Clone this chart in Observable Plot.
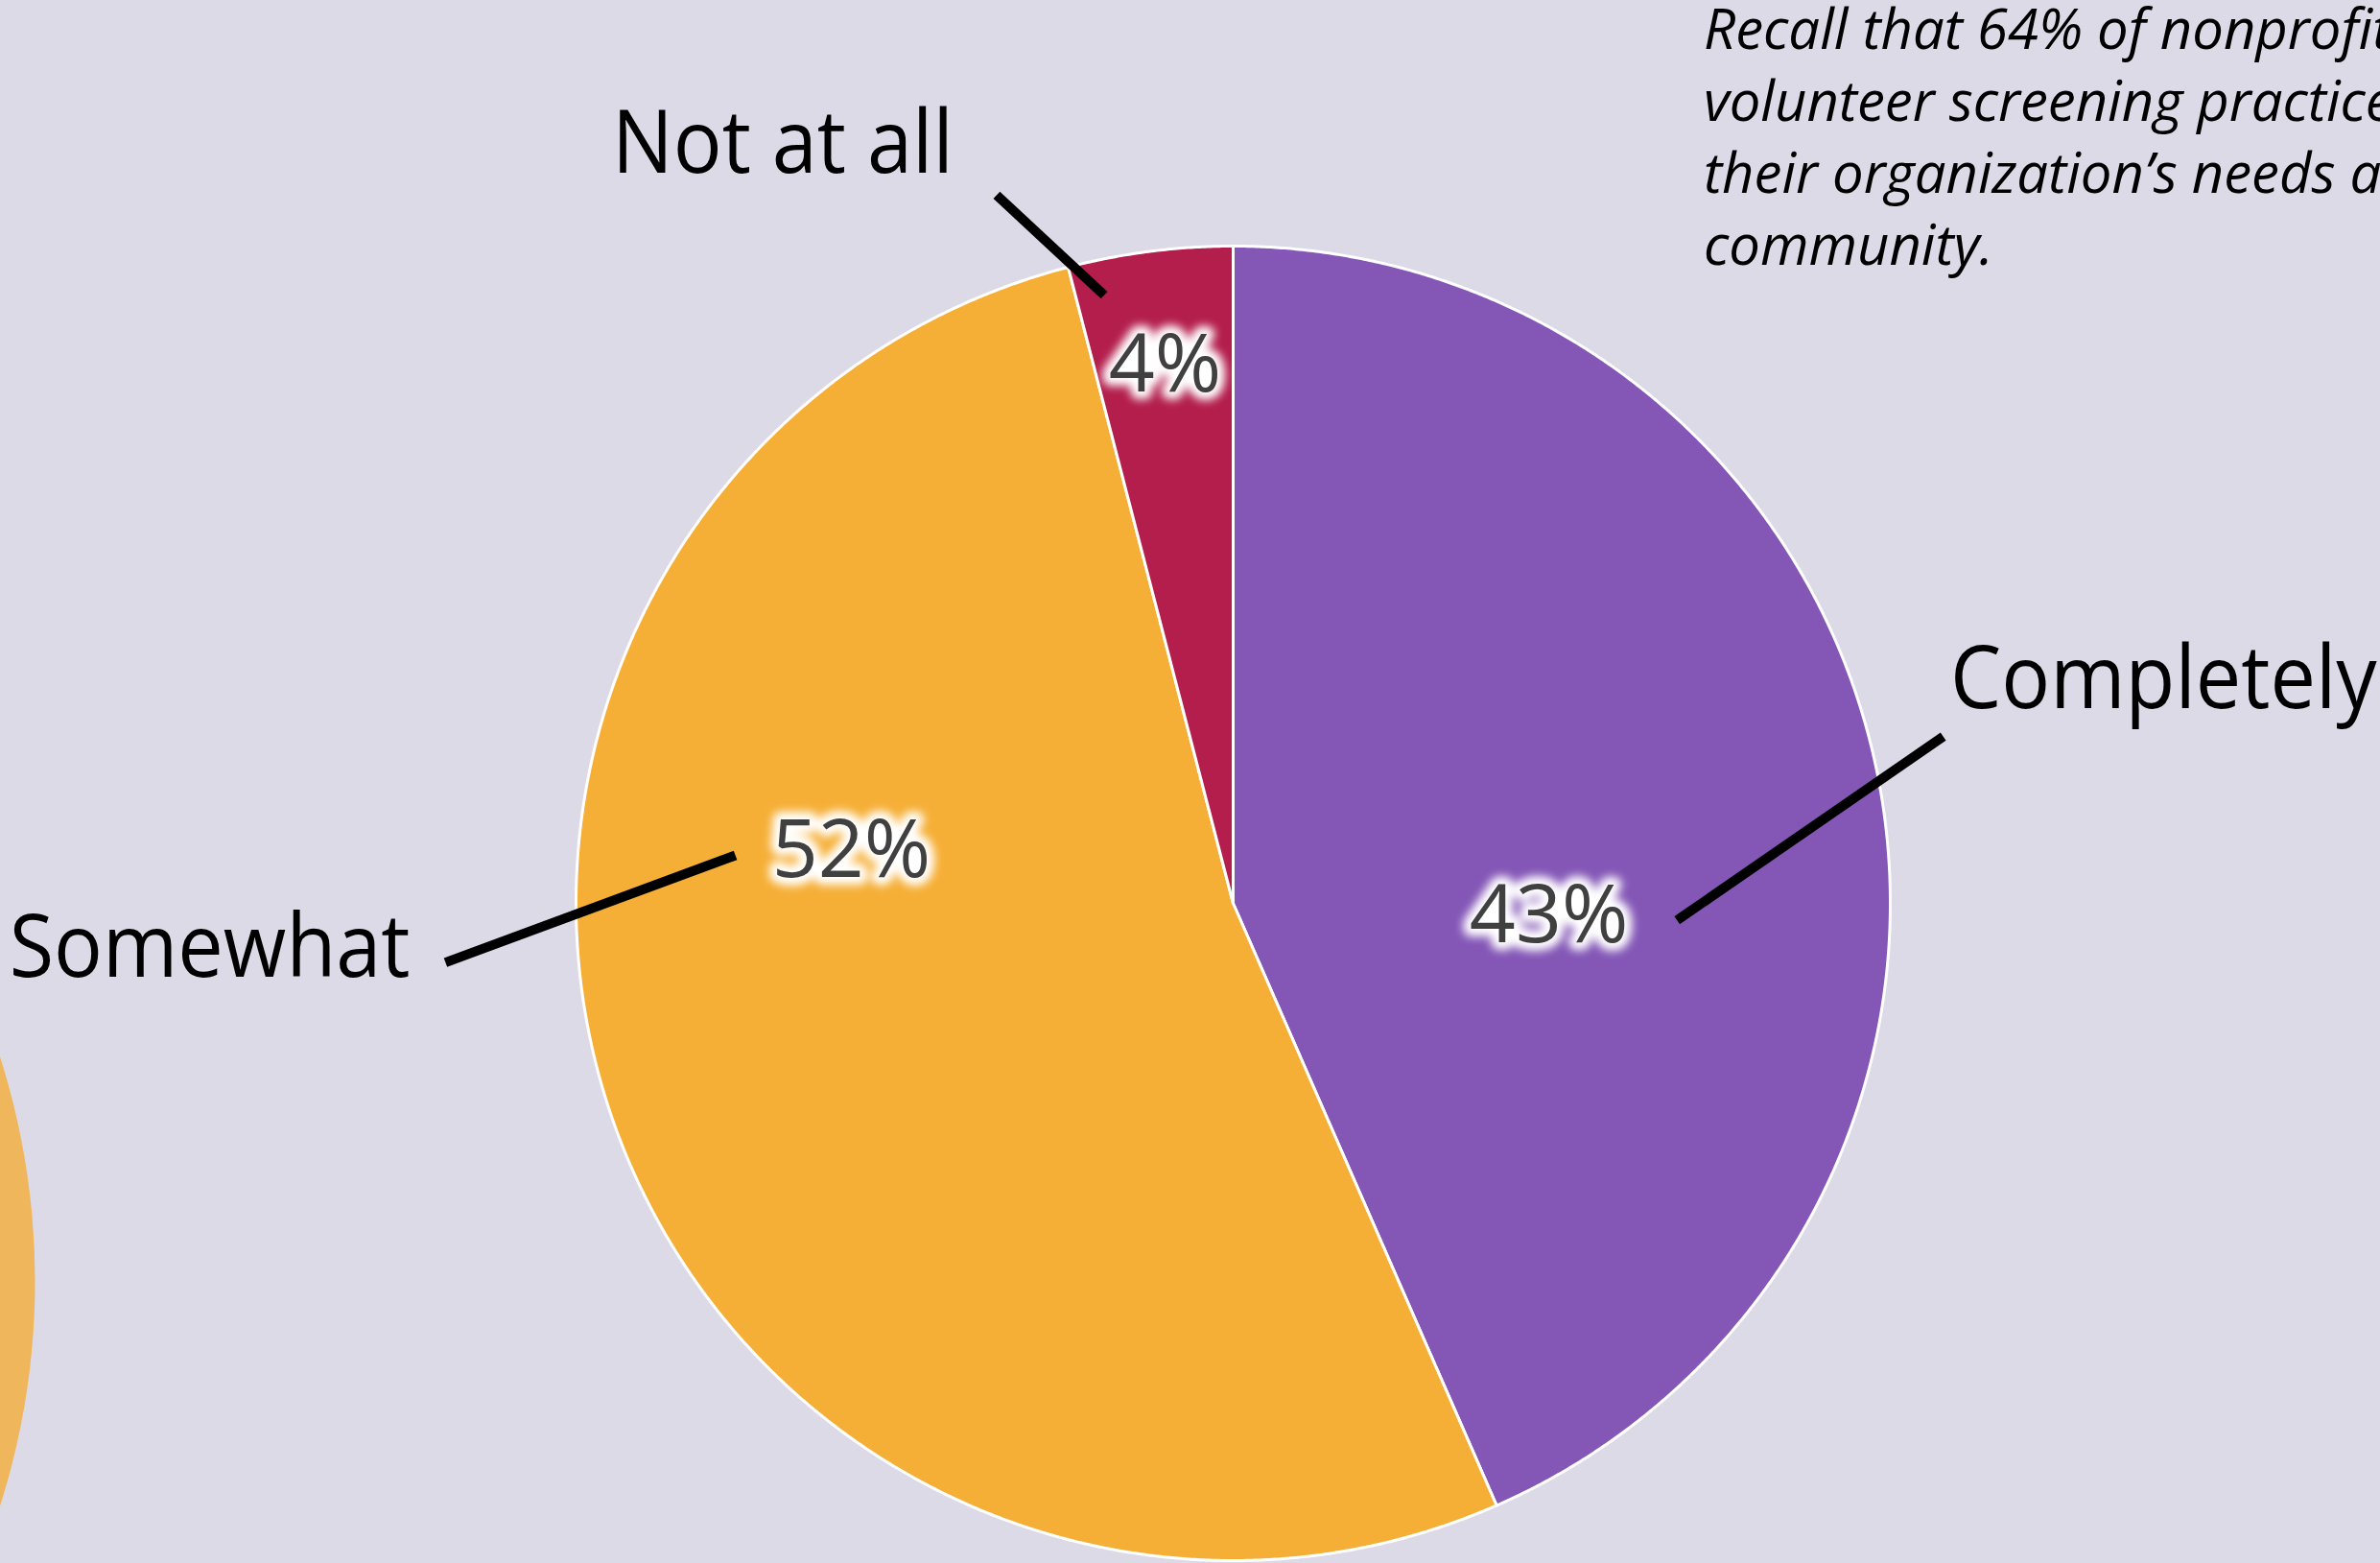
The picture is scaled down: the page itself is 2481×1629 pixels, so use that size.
<!DOCTYPE html>
<html>
<head>
<meta charset="utf-8">
<script src="https://cdn.jsdelivr.net/npm/d3@7"></script>
<script src="https://cdn.jsdelivr.net/npm/@observablehq/plot@0.6"></script>
<style>
  html, body { margin: 0; padding: 0; background: #DCDAE7; overflow: hidden; width: 2481px; height: 1629px; }
  #chart { position: absolute; left: 0; top: 0; }
  #note {
    position: absolute; left: 1776px; top: -9px;
    font-family: "Open Sans", sans-serif; font-style: italic; font-size: 58px; line-height: 75px;
    color: #000; white-space: nowrap;
  }
</style>
</head>
<body>
<div id="chart"></div>
<div id="note"></div>
<script>
// Survey answers, in the order the slices run clockwise from 12 o'clock
const categories = ["Completely", "Somewhat", "Not at all"];
const shares = [43, 52, 4];
const sliceColors = ["#8457B7", "#F6AF36", "#B41E4D"];
const noteLines = [
  "Recall that 64% of nonprofits",
  "volunteer screening practices",
  "their organization’s needs and",
  "community."
];

// Canvas and pie geometry (pixels)
const W = 2481, H = 1629;
const cx = 1285, cy = 941, R = 685;

// Annotation placement per slice: [angle offset in degrees from the slice's mid-angle, radius in pie radii]
const placement = {
  "Completely": {pct: [18.75, 0.484], inner: [14.0, 0.676], outer: [-1.4, 1.110], label: [-3.4, 1.131]},
  "Somewhat":   {pct: [23.1, 0.5825], inner: [24.6, 0.761], outer: [14.8, 1.202], label: [14.0, 1.2575]},
  "Not at all": {pct: [-0.32, 0.785], inner: [-4.7, 0.946], outer: [-11.2, 1.136], label: [-13.7, 1.190]}
};

// Partial disc of the neighbouring chart at the left edge (pixels)
const sideDisc = {px: -733, py: 1335, r: 769, fill: "#EFB65C"};

// --- slice angles (degrees clockwise from 12 o'clock) ---
const total = d3.sum(shares);
let acc = 0;
const slices = categories.map((c, i) => {
  const a0 = acc / total * 360;
  acc += shares[i];
  const a1 = acc / total * 360;
  return {category: c, value: shares[i], a0, a1, mid: (a0 + a1) / 2};
});

const rad = Math.PI / 180;
const polar = (deg, r) => ({x: r * Math.sin(deg * rad), y: r * Math.cos(deg * rad)});

// Outline of each slice: centre, arc, back to centre
const outline = slices.flatMap(s => {
  const pts = [{category: s.category, ...polar(0, 0)}];
  const n = Math.max(2, Math.ceil((s.a1 - s.a0) / 0.25));
  for (let k = 0; k <= n; ++k) pts.push({category: s.category, ...polar(s.a0 + (s.a1 - s.a0) * k / n, 1)});
  pts.push({category: s.category, ...polar(0, 0)});
  return pts;
});

const pctLabels = slices.map(s => {
  const [da, r] = placement[s.category].pct;
  return {text: `${s.value}%`, ...polar(s.mid + da, r)};
});

const leaders = slices.map(s => {
  const p = placement[s.category];
  const a = polar(s.mid + p.inner[0], p.inner[1]);
  const b = polar(s.mid + p.outer[0], p.outer[1]);
  return {x1: a.x, y1: a.y, x2: b.x, y2: b.y};
});

const catLabels = slices.map(s => {
  const [da, r] = placement[s.category].label;
  const ang = s.mid + da;
  return {text: s.category, right: Math.sin(ang * rad) > 0, ...polar(ang, r)};
});

const toX = px => (px - cx) / R;
const toY = py => (cy - py) / R;

const labelFont = "'Open Sans', sans-serif";

const chart = Plot.plot({
  width: W,
  height: H,
  margin: 0,
  style: {background: "#DCDAE7", overflow: "hidden"},
  x: {domain: [toX(0), toX(W)], axis: null},
  y: {domain: [toY(H), toY(0)], axis: null},
  color: {domain: categories, range: sliceColors},
  marks: [
    Plot.dot([sideDisc], {x: d => toX(d.px), y: d => toY(d.py), r: sideDisc.r, fill: sideDisc.fill, stroke: null}),
    Plot.line(outline, {
      x: "x", y: "y", z: "category", fill: "category",
      stroke: "white", strokeWidth: 3, strokeLinejoin: "round", curve: "linear"
    }),
    Plot.link(leaders, {x1: "x1", y1: "y1", x2: "x2", y2: "y2", stroke: "black", strokeWidth: 10, strokeLinecap: "butt"}),
    // soft white glow behind the percentages
    Plot.text(pctLabels, {
      x: "x", y: "y", text: "text", textAnchor: "middle", lineAnchor: "bottom",
      fontFamily: labelFont, fontSize: 84, fill: "white", stroke: "white", strokeWidth: 16, strokeLinejoin: "round",
      ariaDescription: "pct-halo"
    }),
    Plot.text(pctLabels, {
      x: "x", y: "y", text: "text", textAnchor: "middle", lineAnchor: "bottom",
      fontFamily: labelFont, fontSize: 84, fill: "#404040",
      ariaDescription: "pct"
    }),
    Plot.text(catLabels, {
      filter: d => d.right, x: "x", y: "y", text: "text", textAnchor: "start", lineAnchor: "bottom",
      fontFamily: labelFont, fontSize: 92, fill: "black", ariaDescription: "cat"
    }),
    Plot.text(catLabels, {
      filter: d => !d.right, x: "x", y: "y", text: "text", textAnchor: "end", lineAnchor: "bottom",
      fontFamily: labelFont, fontSize: 92, fill: "black", ariaDescription: "cat"
    })
  ]
});

// blur filter for the glow
const svg = d3.select(chart);
const defs = svg.insert("defs", ":first-child");
defs.append("filter").attr("id", "glow").attr("x", "-30%").attr("y", "-30%").attr("width", "160%").attr("height", "160%")
  .append("feGaussianBlur").attr("stdDeviation", 5);
svg.selectAll('g[aria-description="pct-halo"]').attr("filter", "url(#glow)");

// category labels use a narrower set width
svg.selectAll('g[aria-description="cat"] text').each(function () {
  const t = this.getAttribute("transform");
  if (t) this.setAttribute("transform", t + " scale(0.92,1)");
});

document.getElementById("chart").appendChild(chart);
document.getElementById("note").innerHTML = noteLines.join("<br>");
</script>
</body>
</html>
